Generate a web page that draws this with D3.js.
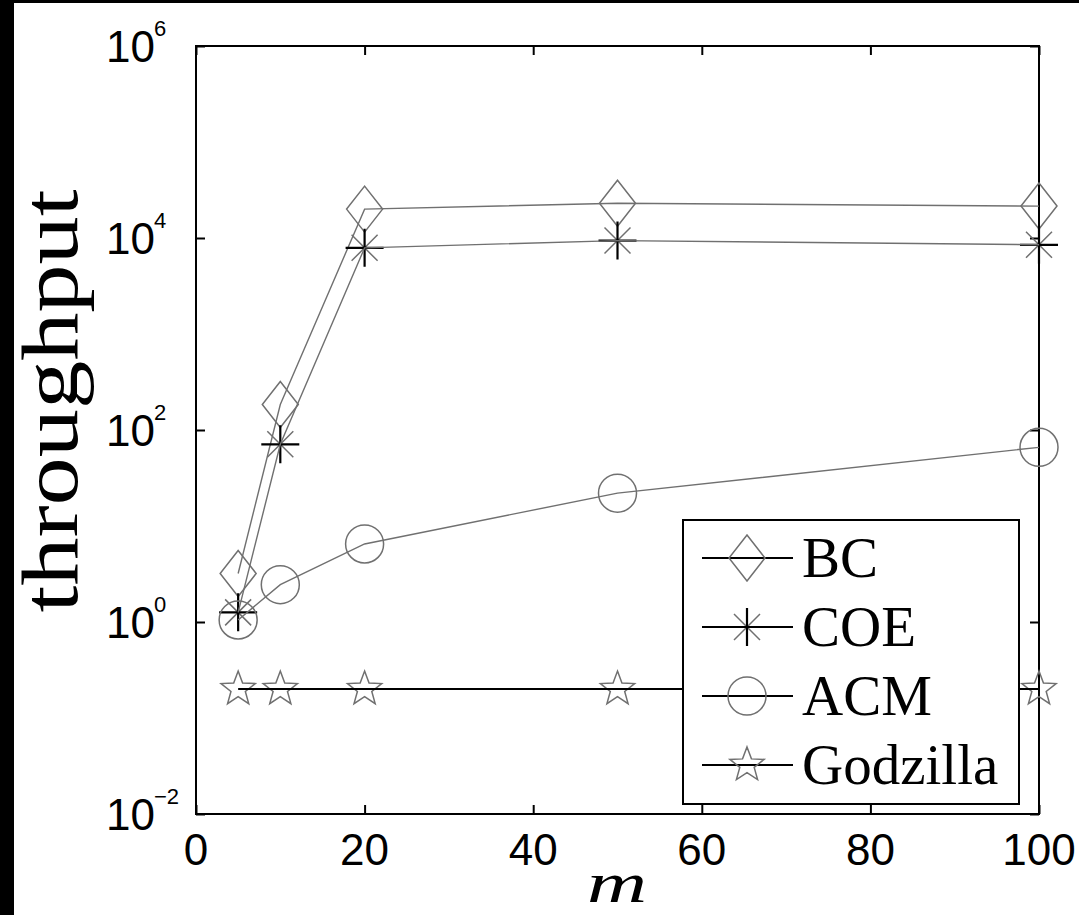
<!DOCTYPE html>
<html>
<head>
<meta charset="utf-8">
<script src="https://cdn.jsdelivr.net/npm/d3@7"></script>
<style>
  body { margin: 0; background: #fff; }
  svg { display: block; }
</style>
</head>
<body>
<svg></svg>
<script>
// Chart data
const mValues = [5, 10, 20, 50, 100];
const bcValues = [3.2, 184, 20000, 23000, 21500];
const coeValues = [1.26, 71, 7900, 9400, 8500];
const acmValues = [1.05, 2.45, 6.5, 22, 66];
const godzillaValues = [0.2, 0.2, 0.2, 0.2, 0.2];
const xTicks = [0, 20, 40, 60, 80, 100];
const yTickExps = [-2, 0, 2, 4, 6];
const seriesNames = ["BC", "COE", "ACM", "Godzilla"];

const svgWidth = 1079;
const svgHeight = 915;
const plot = { left: 196, right: 1039, top: 46, bottom: 814 };

const svg = d3.select("svg")
    .attr("width", svgWidth)
    .attr("height", svgHeight);

// Black scan border on the left and top edges
svg.append("rect").attr("x", 0).attr("y", 0).attr("width", 14).attr("height", svgHeight).attr("fill", "#000");
svg.append("rect").attr("x", 0).attr("y", 0).attr("width", svgWidth).attr("height", 3).attr("fill", "#000");

const x = d3.scaleLinear().domain([0, 100]).range([plot.left, plot.right]);
const y = d3.scaleLog().domain([1e-2, 1e6]).range([plot.bottom, plot.top]);

const grey = "#707070";

// Axes with inward ticks on all four sides
const tickLen = 9;
function styleAxis(g) {
    g.select(".domain").remove();
    g.selectAll(".tick line").attr("stroke", "#000").attr("stroke-width", 2);
    g.selectAll(".tick text").remove();
}
svg.append("g").attr("transform", `translate(0,${plot.bottom})`)
    .call(d3.axisBottom(x).tickValues(xTicks).tickSize(-tickLen)).call(styleAxis);
svg.append("g").attr("transform", `translate(0,${plot.top})`)
    .call(d3.axisTop(x).tickValues(xTicks).tickSize(-tickLen)).call(styleAxis);
svg.append("g").attr("transform", `translate(${plot.left},0)`)
    .call(d3.axisLeft(y).tickValues(yTickExps.map(e => Math.pow(10, e))).tickSize(-tickLen)).call(styleAxis);
svg.append("g").attr("transform", `translate(${plot.right},0)`)
    .call(d3.axisRight(y).tickValues(yTickExps.map(e => Math.pow(10, e))).tickSize(-tickLen)).call(styleAxis);

svg.append("rect")
    .attr("x", plot.left).attr("y", plot.top)
    .attr("width", plot.right - plot.left).attr("height", plot.bottom - plot.top)
    .attr("fill", "none").attr("stroke", "#000").attr("stroke-width", 2);

// Tick labels
const tickFont = "'Liberation Sans', Arial, sans-serif";
svg.append("g").selectAll("text")
    .data(xTicks)
    .enter()
    .append("text")
    .attr("x", d => x(d))
    .attr("y", 865)
    .attr("text-anchor", "middle")
    .style("font-family", tickFont)
    .style("font-size", "44px")
    .text(d => d);

const yLabels = svg.append("g").selectAll("g")
    .data(yTickExps)
    .enter()
    .append("g");
yLabels.append("text")
    .attr("x", 155)
    .attr("y", d => y(Math.pow(10, d)) + 16)
    .attr("text-anchor", "end")
    .style("font-family", tickFont)
    .style("font-size", "44px")
    .text("10");
yLabels.append("text")
    .attr("x", 154)
    .attr("y", d => y(Math.pow(10, d)) - 10)
    .style("font-family", tickFont)
    .style("font-size", "22px")
    .text(d => d < 0 ? "\u2212" + (-d) : d);

// Axis titles
svg.append("text")
    .attr("transform", "translate(77,401) rotate(-90)")
    .attr("text-anchor", "middle")
    .attr("textLength", 423)
    .attr("lengthAdjust", "spacingAndGlyphs")
    .style("font-family", "'Liberation Serif', 'Times New Roman', serif")
    .style("font-size", "80px")
    .text("throughput");

svg.append("text")
    .attr("x", 617)
    .attr("y", 902)
    .attr("text-anchor", "middle")
    .attr("textLength", 60)
    .attr("lengthAdjust", "spacingAndGlyphs")
    .style("font-family", "'Liberation Serif', 'Times New Roman', serif")
    .style("font-style", "italic")
    .style("font-size", "58px")
    .text("m");

// Marker drawing helpers
function diamondPath() {
    return "M0,-23L18,0L0,23L-18,0Z";
}
function starPath(r) {
    const inner = r * 0.42;
    let pts = [];
    for (let i = 0; i < 10; i++) {
        const a = -Math.PI / 2 + i * Math.PI / 5;
        const rr = i % 2 === 0 ? r : inner;
        pts.push([rr * Math.cos(a), rr * Math.sin(a)]);
    }
    return "M" + pts.map(p => p.join(",")).join("L") + "Z";
}
function drawMarker(g, type) {
    if (type === "BC") {
        g.append("path").attr("d", diamondPath())
            .attr("fill", "none").attr("stroke", grey).attr("stroke-width", 1.5);
    } else if (type === "COE") {
        g.append("path").attr("d", "M-13,-13L13,13M-13,13L13,-13")
            .attr("stroke", grey).attr("stroke-width", 1.5);
        g.append("path").attr("d", "M-19,0L19,0M0,-19L0,19")
            .attr("stroke", "#000").attr("stroke-width", 2.2);
    } else if (type === "ACM") {
        g.append("circle").attr("r", 19)
            .attr("fill", "none").attr("stroke", grey).attr("stroke-width", 1.5);
    } else {
        g.append("path").attr("d", starPath(18))
            .attr("fill", "none").attr("stroke", grey).attr("stroke-width", 1.5);
    }
}

const series = [
    { name: "BC", values: bcValues, lineColor: grey, lineWidth: 1.4 },
    { name: "COE", values: coeValues, lineColor: grey, lineWidth: 1.4 },
    { name: "ACM", values: acmValues, lineColor: grey, lineWidth: 1.4 },
    { name: "Godzilla", values: godzillaValues, lineColor: "#000", lineWidth: 2 }
];

const line = d3.line()
    .x(d => x(d.m))
    .y(d => y(d.v));

series.forEach(s => {
    const pts = mValues.map((m, i) => ({ m: m, v: s.values[i] }));
    pts.forEach(p => {
        const g = svg.append("g").attr("transform", `translate(${x(p.m)},${y(p.v)})`);
        drawMarker(g, s.name);
    });
    svg.append("path")
        .datum(pts)
        .attr("d", line)
        .attr("fill", "none")
        .attr("stroke", s.lineColor)
        .attr("stroke-width", s.lineWidth);
});

// Legend
const legend = svg.append("g");
legend.append("rect")
    .attr("x", 683).attr("y", 520)
    .attr("width", 336).attr("height", 284)
    .attr("fill", "#fff").attr("stroke", "#000").attr("stroke-width", 2);

const legendRows = [558, 627, 696, 765];
seriesNames.forEach((name, i) => {
    const ry = legendRows[i];
    legend.append("line")
        .attr("x1", 702).attr("x2", 793)
        .attr("y1", ry).attr("y2", ry)
        .attr("stroke", "#000").attr("stroke-width", 2);
    const g = legend.append("g").attr("transform", `translate(747,${ry})`);
    drawMarker(g, name);
    legend.append("text")
        .attr("x", 802)
        .attr("y", ry + 19)
        .style("font-family", "'Liberation Serif', 'Times New Roman', serif")
        .style("font-size", "57px")
        .text(name);
});
</script>
</body>
</html>
